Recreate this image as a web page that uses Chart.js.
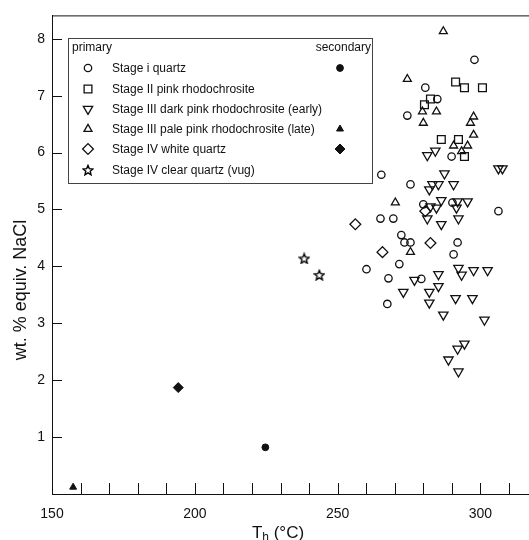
<!DOCTYPE html>
<html>
<head>
<meta charset="utf-8">
<title>Th vs salinity</title>
<script src="https://cdn.jsdelivr.net/npm/chart.js@4.4.1/dist/chart.umd.min.js"></script>
<style>
  html, body { margin: 0; padding: 0; background: #fff; }
  #wrap { width: 529px; height: 540px; }
</style>
</head>
<body>
<div id="wrap"><canvas id="chart" width="529" height="540"></canvas></div>
<script>
// datos: [Th (°C), wt.% NaCl]
const stageIQuartz = [
  [297.9, 7.63], [280.7, 7.14], [284.9, 6.94], [274.4, 6.65], [265.3, 5.61],
  [289.9, 5.93], [275.5, 5.44], [280.0, 5.09], [290.2, 5.12], [306.3, 4.97],
  [265.0, 4.84], [269.5, 4.84], [272.3, 4.55], [273.4, 4.42], [275.5, 4.42],
  [292.0, 4.42], [290.6, 4.21], [271.6, 4.04], [260.1, 3.95], [267.8, 3.79],
  [279.3, 3.78], [267.4, 3.34]
];
const stageIIRhodo = [
  [291.3, 7.24], [294.4, 7.14], [300.7, 7.14], [282.5, 6.94], [280.4, 6.84],
  [286.3, 6.23], [292.3, 6.23], [294.4, 5.93]
];
const stageIIIDarkEarly = [
  [284.2, 6.03], [281.4, 5.95], [306.3, 5.72], [307.7, 5.72], [287.4, 5.63],
  [283.2, 5.44], [285.3, 5.44], [282.1, 5.35], [290.6, 5.44], [286.3, 5.16],
  [282.5, 5.05], [284.6, 5.03], [292.0, 5.14], [295.5, 5.14], [291.6, 5.03],
  [281.4, 4.84], [286.3, 4.74], [292.3, 4.84], [285.3, 3.86], [292.3, 3.97],
  [293.4, 3.85], [297.6, 3.93], [302.5, 3.93], [276.9, 3.76], [285.3, 3.65],
  [273.0, 3.55], [282.1, 3.55], [291.3, 3.44], [297.2, 3.44], [282.1, 3.36],
  [287.0, 3.15], [301.4, 3.06], [294.4, 2.64], [292.0, 2.55], [288.8, 2.36],
  [292.3, 2.15]
];
const stageIIIPaleLate = [
  [287.0, 8.13], [274.4, 7.29], [279.7, 6.72], [284.6, 6.72], [280.0, 6.52],
  [297.6, 6.63], [296.5, 6.52], [297.6, 6.31], [290.6, 6.12], [295.5, 6.12],
  [293.4, 6.02], [270.2, 5.12], [275.5, 4.25]
];
const stageIVWhite = [[256.2, 4.74], [265.7, 4.25], [282.5, 4.41], [280.7, 4.97]];
const stageIVClear = [[238.3, 4.14], [243.6, 3.85]];

// inclusiones secundarias
const secQuartz = [[224.7, 0.82]];
const secPaleLate = [[157.4, 0.12]];
const secWhite = [[194.2, 1.87]];

const primaryLabels = [
  'Stage i quartz',
  'Stage II pink rhodochrosite',
  'Stage III dark pink rhodochrosite (early)',
  'Stage III pale pink rhodochrosite (late)',
  'Stage IV white quartz',
  'Stage IV clear quartz (vug)'
];

const xMin = 150, xMax = 317, xStep = 10, xLabelEvery = 50;
const yMin = 0, yMax = 8.41, yStep = 1;

const FONT = '"Liberation Sans", Arial, Helvetica, sans-serif';
const INK = '#111';

// estrella de cinco puntas (Chart.js solo trae un asterisco)
function makeStar(size) {
  const c = document.createElement('canvas');
  c.width = size; c.height = size;
  const g = c.getContext('2d');
  const cx = size / 2, cy = size / 2 + 0.6, ro = size / 2 - 0.8, ri = ro * 0.45;
  g.beginPath();
  for (let i = 0; i < 10; i++) {
    const r = i % 2 === 0 ? ro : ri;
    const a = -Math.PI / 2 + i * Math.PI / 5;
    const px = cx + r * Math.cos(a), py = cy + r * Math.sin(a);
    if (i === 0) g.moveTo(px, py); else g.lineTo(px, py);
  }
  g.closePath();
  g.strokeStyle = '#000';
  g.lineWidth = 1.4;
  g.stroke();
  return c;
}
const starImg = makeStar(12);

const toXY = arr => arr.map(p => ({ x: p[0], y: p[1] }));

function hollow(label, data, style, radius, rotation) {
  return {
    label: label,
    data: toXY(data),
    pointStyle: style,
    pointRadius: radius,
    pointRotation: rotation || 0,
    pointBorderColor: INK,
    pointBackgroundColor: 'rgba(0,0,0,0)',
    pointBorderWidth: 1.3,
    showLine: false
  };
}
function filled(label, data, style, radius) {
  return {
    label: label,
    data: toXY(data),
    pointStyle: style,
    pointRadius: radius,
    pointBorderColor: INK,
    pointBackgroundColor: INK,
    pointBorderWidth: 1,
    showLine: false
  };
}

const datasets = [
  hollow(primaryLabels[0], stageIQuartz, 'circle', 3.7),
  hollow(primaryLabels[1], stageIIRhodo, 'rect', 5.5),
  hollow(primaryLabels[2], stageIIIDarkEarly, 'triangle', 5.4, 180),
  hollow(primaryLabels[3], stageIIIPaleLate, 'triangle', 4.6),
  hollow(primaryLabels[4], stageIVWhite, 'rectRot', 5.4),
  hollow(primaryLabels[5], stageIVClear, starImg, 6),
  filled('secondary quartz', secQuartz, 'circle', 3.4),
  filled('secondary pale pink', secPaleLate, 'triangle', 4),
  filled('secondary white quartz', secWhite, 'rectRot', 5)
];

// fila de la leyenda para cada serie secundaria
const secondaryRows = { 6: 0, 7: 3, 8: 4 };

function drawMarker(ctx, ds, x, y) {
  const opts = {
    pointStyle: ds.pointStyle,
    radius: ds.pointRadius,
    rotation: ds.pointRotation || 0,
    borderWidth: ds.pointBorderWidth
  };
  ctx.save();
  ctx.fillStyle = ds.pointBackgroundColor;
  ctx.strokeStyle = ds.pointBorderColor;
  ctx.lineWidth = ds.pointBorderWidth;
  Chart.helpers.drawPoint(ctx, opts, x, y);
  ctx.restore();
}

// marcas hacia adentro, borde superior, titulos y leyenda
const framePlugin = {
  id: 'frame',
  afterDraw(chart) {
    const ctx = chart.ctx;
    const area = chart.chartArea;
    const xs = chart.scales.x, ys = chart.scales.y;
    ctx.save();
    ctx.strokeStyle = INK;
    ctx.lineWidth = 1;

    // borde superior
    ctx.beginPath();
    ctx.moveTo(area.left, area.top + 0.5);
    ctx.lineTo(area.right, area.top + 0.5);
    ctx.stroke();

    // ticks eje x
    xs.ticks.forEach(t => {
      if (t.value <= xMin) return;
      const px = Math.round(xs.getPixelForValue(t.value)) + 0.5;
      ctx.beginPath();
      ctx.moveTo(px, area.bottom);
      ctx.lineTo(px, area.bottom - 11);
      ctx.stroke();
    });
    // ticks eje y
    ys.ticks.forEach(t => {
      if (t.value <= yMin) return;
      const py = Math.round(ys.getPixelForValue(t.value)) + 0.5;
      ctx.beginPath();
      ctx.moveTo(area.left, py);
      ctx.lineTo(area.left + 10, py);
      ctx.stroke();
    });

    // titulo eje x: T con subindice h
    ctx.fillStyle = INK;
    ctx.textBaseline = 'alphabetic';
    const big = '17px ' + FONT, small = '12px ' + FONT;
    ctx.font = big;
    const wT = ctx.measureText('T').width;
    const wRest = ctx.measureText(' (°C)').width;
    ctx.font = small;
    const wh = ctx.measureText('h').width;
    let tx = 278 - (wT + wh + wRest) / 2;
    const ty = 538;
    ctx.font = big;
    ctx.fillText('T', tx, ty);
    tx += wT;
    ctx.font = small;
    ctx.fillText('h', tx, ty + 3);
    tx += wh;
    ctx.font = big;
    ctx.fillText(' (°C)', tx, ty);

    // titulo eje y
    ctx.save();
    ctx.translate(26, 290);
    ctx.rotate(-Math.PI / 2);
    ctx.font = '18px ' + FONT;
    ctx.textAlign = 'center';
    ctx.fillText('wt. % equiv. NaCl', 0, 0);
    ctx.restore();

    // leyenda
    const box = { l: 68.5, t: 38.5, r: 372.5, b: 183.5 };
    ctx.fillStyle = '#fff';
    ctx.fillRect(box.l, box.t, box.r - box.l, box.b - box.t);
    ctx.strokeStyle = '#444';
    ctx.lineWidth = 1;
    ctx.strokeRect(box.l, box.t, box.r - box.l, box.b - box.t);

    ctx.fillStyle = INK;
    ctx.font = '12px ' + FONT;
    ctx.textBaseline = 'middle';
    ctx.textAlign = 'left';
    ctx.fillText('primary', 72, 48);
    ctx.textAlign = 'right';
    ctx.fillText('secondary', 371, 48);

    const rows = [68, 89, 109, 129, 149, 170];
    ctx.textAlign = 'left';
    ctx.font = '12px ' + FONT;
    for (let i = 0; i < primaryLabels.length; i++) {
      drawMarker(ctx, datasets[i], 88, rows[i]);
      ctx.fillStyle = INK;
      ctx.fillText(primaryLabels[i], 112, rows[i] + 1);
    }
    Object.keys(secondaryRows).forEach(k => {
      drawMarker(ctx, datasets[k], 340, rows[secondaryRows[k]]);
    });
    ctx.restore();
  }
};

const chart = new Chart(document.getElementById('chart').getContext('2d'), {
  type: 'scatter',
  data: { datasets: datasets },
  options: {
    responsive: false,
    animation: false,
    events: [],
    layout: { autoPadding: false, padding: { top: 13, right: 0, left: 0, bottom: 0 } },
    plugins: {
      legend: { display: false },
      tooltip: { enabled: false }
    },
    scales: {
      x: {
        type: 'linear',
        min: xMin,
        max: xMax,
        afterFit(scale) { scale.height = 46; },
        grid: { display: true, drawOnChartArea: false, drawTicks: false },
        border: { display: true, color: INK, width: 1 },
        ticks: {
          stepSize: xStep,
          includeBounds: false,
          autoSkip: false,
          maxRotation: 0,
          padding: 12,
          color: INK,
          font: { family: FONT, size: 14 },
          callback: v => (v % xLabelEvery === 0 ? String(v) : '')
        }
      },
      y: {
        type: 'linear',
        min: yMin,
        max: yMax,
        afterFit(scale) { scale.width = 52; },
        grid: { display: true, drawOnChartArea: false, drawTicks: false },
        border: { display: true, color: INK, width: 1 },
        ticks: {
          stepSize: yStep,
          includeBounds: false,
          padding: 7,
          color: INK,
          font: { family: FONT, size: 14 },
          callback: v => (v === 0 ? '' : String(v))
        }
      }
    }
  },
  plugins: [framePlugin]
});
</script>
</body>
</html>
